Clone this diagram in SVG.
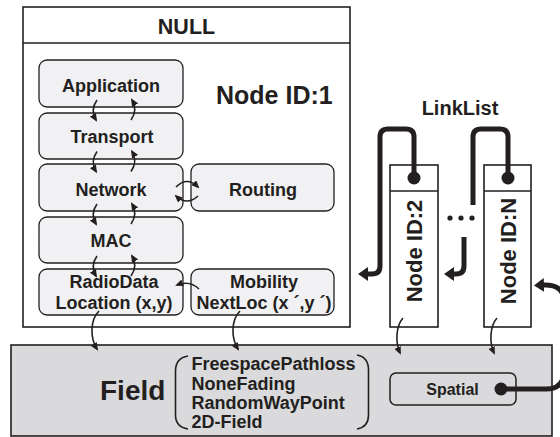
<svg xmlns="http://www.w3.org/2000/svg" width="560" height="437" viewBox="0 0 560 437">
<style>
text{font-family:"Liberation Sans",Arial,sans-serif;font-weight:bold;fill:#231f20}
.c{text-anchor:middle}
.layer{fill:#f1f1f3;stroke:#231f20;stroke-width:1.3}
.thin{fill:none;stroke:#231f20;stroke-width:1.6}
.thick{fill:none;stroke:#231f20;stroke-width:5}
.frame{fill:#fff;stroke:#231f20;stroke-width:1.6}
</style>
<defs>
<marker id="ah" viewBox="0 0 8 7" markerWidth="8" markerHeight="7" refX="6" refY="3.5" orient="auto" markerUnits="userSpaceOnUse"><path d="M0,0 L8,3.5 L0,7 z" fill="#231f20"/></marker>
<marker id="big" viewBox="0 0 10 14" markerWidth="10" markerHeight="14" refX="1" refY="7" orient="auto" markerUnits="userSpaceOnUse"><path d="M0,0 L10,7 L0,14 z" fill="#231f20"/></marker>
</defs>

<g id="node1">
<rect class="frame" x="23" y="7" width="327" height="320"/>
<line x1="23" y1="43" x2="350" y2="43" stroke="#231f20" stroke-width="1.6"/>
<text class="c" x="186.5" y="34" font-size="21.5">NULL</text>
<text x="216" y="104" font-size="25">Node ID:1</text>
</g>
<g id="application"><rect class="layer" x="39" y="60" width="144" height="47" rx="8"/><text class="c" x="111" y="91.5" font-size="18">Application</text></g>
<g id="transport"><rect class="layer" x="39" y="113" width="144" height="46" rx="8"/><text class="c" x="112" y="143" font-size="18">Transport</text></g>
<g id="network"><rect class="layer" x="39" y="164" width="144" height="47" rx="8"/><text class="c" x="111" y="195.5" font-size="18">Network</text></g>
<g id="routing"><rect class="layer" x="191" y="164" width="143" height="47" rx="8"/><text class="c" x="263" y="195.5" font-size="18">Routing</text></g>
<g id="mac"><rect class="layer" x="39" y="217" width="144" height="46" rx="8"/><text class="c" x="111" y="247" font-size="18">MAC</text></g>
<g id="radiodata"><rect class="layer" x="39" y="269" width="144" height="46" rx="8"/><text class="c" x="114" y="287.5" font-size="18">RadioData</text><text class="c" x="114" y="308.5" font-size="18">Location (x,y)</text></g>
<g id="mobility"><rect class="layer" x="191" y="269" width="143" height="46" rx="8"/><text class="c" x="264" y="287.5" font-size="18">Mobility</text><text class="c" x="264" y="308.5" font-size="18">NextLoc (x ´,y ´)</text></g>

<g id="field">
<rect x="11" y="345" width="541" height="91" fill="#dadadc" stroke="#231f20" stroke-width="1.6"/>
<text x="100" y="400" font-size="28">Field</text>
<path class="thin" d="M188 356 Q175.5 358 175.5 371 V415 Q175.5 427 188 429" stroke-width="2"/>
<path class="thin" d="M357 355 Q368.5 357 368.5 370 V415 Q368.5 427 357 429" stroke-width="2"/>
<text x="191.5" y="370" font-size="18">FreespacePathloss</text>
<text x="191.5" y="390" font-size="18">NoneFading</text>
<text x="191.5" y="409" font-size="18">RandomWayPoint</text>
<text x="191.5" y="428" font-size="18">2D-Field</text>
</g>
<g id="spatial">
<rect x="390" y="373" width="126" height="32" rx="6" fill="#dadadc" stroke="#231f20" stroke-width="1.5"/>
<text class="c" x="452.5" y="395" font-size="16">Spatial</text>
<circle cx="501" cy="389" r="6.5" fill="#231f20"/>
</g>

<g id="node2">
<rect class="frame" x="390" y="165" width="48" height="162"/>
<line x1="390" y1="191" x2="438" y2="191" stroke="#231f20" stroke-width="1.6"/>
<circle cx="414" cy="178" r="6.5" fill="#231f20"/>
<text class="c" transform="translate(421.5,251) rotate(-90)" font-size="22">Node ID:2</text>
</g>
<g id="nodeN">
<rect class="frame" x="484" y="165" width="47" height="162"/>
<line x1="484" y1="191" x2="531" y2="191" stroke="#231f20" stroke-width="1.6"/>
<circle cx="508" cy="178" r="6.5" fill="#231f20"/>
<text class="c" transform="translate(515.5,251) rotate(-90)" font-size="22">Node ID:N</text>
</g>
<g id="linklist-label">
<text class="c" x="460" y="115" font-size="20">LinkList</text>
<circle cx="450" cy="218" r="2.6" fill="#231f20"/>
<circle cx="461" cy="218" r="2.6" fill="#231f20"/>
<circle cx="472" cy="218" r="2.6" fill="#231f20"/>
</g>

<g id="connectors">
<path class="thin" d="M97 100 Q90 110 96 120" marker-end="url(#ah)"/>
<path class="thin" d="M131 120 Q138 110 132 100" marker-end="url(#ah)"/>
<path class="thin" d="M97 151.5 Q90 161.5 96 171.5" marker-end="url(#ah)"/>
<path class="thin" d="M131 171.5 Q138 161.5 132 151.5" marker-end="url(#ah)"/>
<path class="thin" d="M97 204 Q90 214 96 224" marker-end="url(#ah)"/>
<path class="thin" d="M131 224 Q138 214 132 204" marker-end="url(#ah)"/>
<path class="thin" d="M97 256 Q90 266 96 276" marker-end="url(#ah)"/>
<path class="thin" d="M131 276 Q138 266 132 256" marker-end="url(#ah)"/>
<path class="thin" d="M176 187 Q187 176 198 187" marker-end="url(#ah)"/>
<path class="thin" d="M198 196 Q187 206 176 196" marker-end="url(#ah)"/>
<path class="thin" d="M199 289 Q190 280 177 285" marker-end="url(#ah)"/>
<path class="thin" d="M99 311 C90 320 90 338 97 349" marker-end="url(#ah)"/>
<path class="thin" d="M240 311 C231 320 231 338 238 349" marker-end="url(#ah)"/>
<path class="thin" d="M403 318 C396 326 395 342 400 353" marker-end="url(#ah)"/>
<path class="thin" d="M497 318 C490 326 489 342 494 353" marker-end="url(#ah)"/>
<path class="thick" d="M414 178 V137 Q414 129 406 129 H388 Q380 129 380 137 V266 Q380 274 372 274 H367" marker-end="url(#big)"/>
<path class="thick" d="M508 178 V137 Q508 129 500 129 H481 Q473 129 473 137 V205"/>
<path class="thick" d="M464 237 V266 Q464 274 456 274 H453" marker-end="url(#big)"/>
<path class="thick" d="M501 389 H546 Q564 389 564 371 V302 Q564 284 543 285" marker-end="url(#big)"/>
</g>
</svg>
